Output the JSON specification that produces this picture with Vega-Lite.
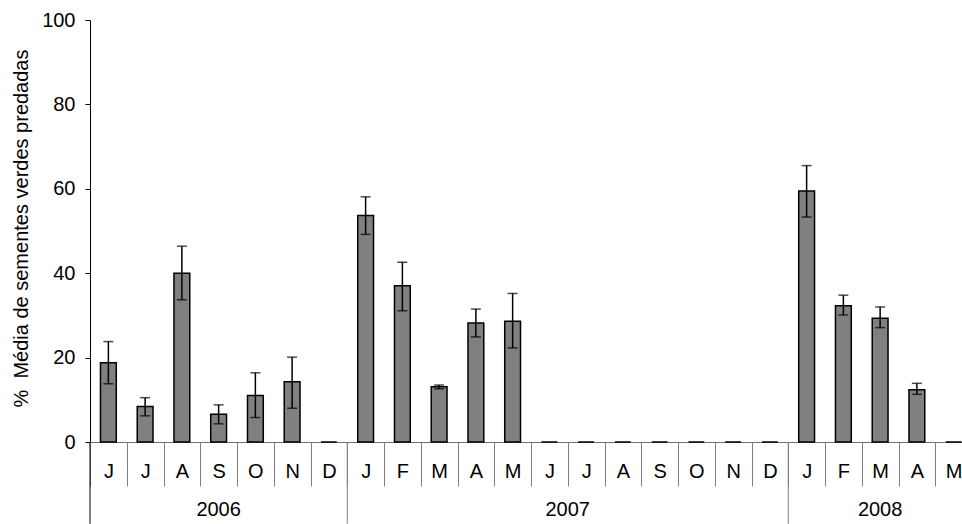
{
  "$schema": "https://vega.github.io/schema/vega-lite/v6.json",
  "width": 882,
  "height": 422,
  "autosize": {"type": "none"},
  "padding": {"left": 90, "top": 20, "right": -10, "bottom": 82},
  "background": "white",
  "config": {
    "view": {"stroke": null},
    "font": "Liberation Sans"
  },
  "datasets": {
    "months": [
      {"key": "2006-06-J", "value": 18.8, "lo": 13.8, "hi": 23.8},
      {"key": "2006-07-J", "value": 8.4, "lo": 6.2, "hi": 10.5},
      {"key": "2006-08-A", "value": 40.0, "lo": 33.7, "hi": 46.4},
      {"key": "2006-09-S", "value": 6.6, "lo": 4.3, "hi": 8.8},
      {"key": "2006-10-O", "value": 11.0, "lo": 5.8, "hi": 16.4},
      {"key": "2006-11-N", "value": 14.3, "lo": 8.0, "hi": 20.1},
      {"key": "2006-12-D", "value": 0, "lo": null, "hi": null},
      {"key": "2007-01-J", "value": 53.7, "lo": 49.2, "hi": 58.1},
      {"key": "2007-02-F", "value": 37.0, "lo": 31.1, "hi": 42.6},
      {"key": "2007-03-M", "value": 13.1, "lo": 12.6, "hi": 13.5},
      {"key": "2007-04-A", "value": 28.2, "lo": 24.9, "hi": 31.5},
      {"key": "2007-05-M", "value": 28.6, "lo": 22.3, "hi": 35.2},
      {"key": "2007-06-J", "value": 0, "lo": null, "hi": null},
      {"key": "2007-07-J", "value": 0, "lo": null, "hi": null},
      {"key": "2007-08-A", "value": 0, "lo": null, "hi": null},
      {"key": "2007-09-S", "value": 0, "lo": null, "hi": null},
      {"key": "2007-10-O", "value": 0, "lo": null, "hi": null},
      {"key": "2007-11-N", "value": 0, "lo": null, "hi": null},
      {"key": "2007-12-D", "value": 0, "lo": null, "hi": null},
      {"key": "2008-01-J", "value": 59.5, "lo": 53.3, "hi": 65.5},
      {"key": "2008-02-F", "value": 32.3, "lo": 30.1, "hi": 34.8},
      {"key": "2008-03-M", "value": 29.3, "lo": 27.1, "hi": 32.0},
      {"key": "2008-04-A", "value": 12.4, "lo": 11.3, "hi": 13.9},
      {"key": "2008-05-M", "value": 0, "lo": null, "hi": null}
    ],
    "yearBounds": [
      {"pos": 0, "top": 0, "bottom": -19.4},
      {"pos": 7, "top": 0, "bottom": -19.4},
      {"pos": 19, "top": 0, "bottom": -19.4}
    ],
    "years": [
      {"year": "2006", "mid": 3.5},
      {"year": "2007", "mid": 13},
      {"year": "2008", "mid": 21.5}
    ]
  },
  "resolve": {"scale": {"x": "independent"}},
  "layer": [
    {
      "data": {"name": "months"},
      "layer": [
        {
          "mark": {"type": "bar", "fill": "#808080", "stroke": "black", "strokeWidth": 1.5, "width": {"band": 0.43}},
          "encoding": {
            "x": {
              "field": "key", "type": "nominal", "sort": null,
              "scale": {"paddingInner": 0, "paddingOuter": 0},
              "axis": {
                "title": null,
                "labelExpr": "split(datum.value, '-')[2]",
                "labelAngle": 0,
                "labelFontSize": 20,
                "labelColor": "black",
                "labelPadding": -25,
                "tickBand": "extent",
                "tickSize": 44,
                "tickColor": "#808080",
                "tickWidth": 1,
                "domainColor": "#707070",
                "domainWidth": 1
              }
            },
            "y": {
              "field": "value", "type": "quantitative",
              "scale": {"domain": [0, 100], "nice": false},
              "axis": {
                "title": "%\u00a0\u00a0Média de sementes verdes predadas",
                "titleFontSize": 20,
                "titleFontWeight": "normal",
                "titleColor": "black",
                "titleBaseline": "alphabetic",
                "titleX": -63,
                "titleY": 208,
                "values": [0, 20, 40, 60, 80, 100],
                "grid": false,
                "tickSize": 5,
                "tickColor": "black",
                "domainColor": "black",
                "labelFontSize": 20,
                "labelColor": "black",
                "labelPadding": 10
              }
            }
          }
        },
        {
          "transform": [{"filter": "datum.lo != null"}],
          "mark": {"type": "rule", "color": "black", "strokeWidth": 1.5},
          "encoding": {
            "x": {"field": "key", "type": "nominal", "sort": null},
            "y": {"field": "lo", "type": "quantitative"},
            "y2": {"field": "hi"}
          }
        },
        {
          "transform": [{"filter": "datum.lo != null"}],
          "mark": {"type": "tick", "color": "black", "thickness": 1.5, "size": 10, "orient": "horizontal"},
          "encoding": {
            "x": {"field": "key", "type": "nominal", "sort": null},
            "y": {"field": "lo", "type": "quantitative"}
          }
        },
        {
          "transform": [{"filter": "datum.hi != null"}],
          "mark": {"type": "tick", "color": "black", "thickness": 1.5, "size": 10, "orient": "horizontal"},
          "encoding": {
            "x": {"field": "key", "type": "nominal", "sort": null},
            "y": {"field": "hi", "type": "quantitative"}
          }
        }
      ]
    },
    {
      "data": {"name": "yearBounds"},
      "mark": {"type": "rule", "strokeWidth": 1, "clip": false},
      "encoding": {
        "x": {"field": "pos", "type": "quantitative", "scale": {"domain": [0, 24], "nice": false, "zero": false}, "axis": null},
        "y": {"field": "top", "type": "quantitative"},
        "y2": {"field": "bottom"},
        "color": {"condition": {"test": "datum.pos == 0", "value": "black"}, "value": "#808080"}
      }
    },
    {
      "data": {"name": "years"},
      "mark": {"type": "text", "fontSize": 20, "color": "black", "baseline": "middle", "align": "center"},
      "encoding": {
        "x": {"field": "mid", "type": "quantitative", "scale": {"domain": [0, 24], "nice": false, "zero": false}, "axis": null},
        "y": {"datum": -16.2},
        "text": {"field": "year"}
      }
    }
  ]
}
